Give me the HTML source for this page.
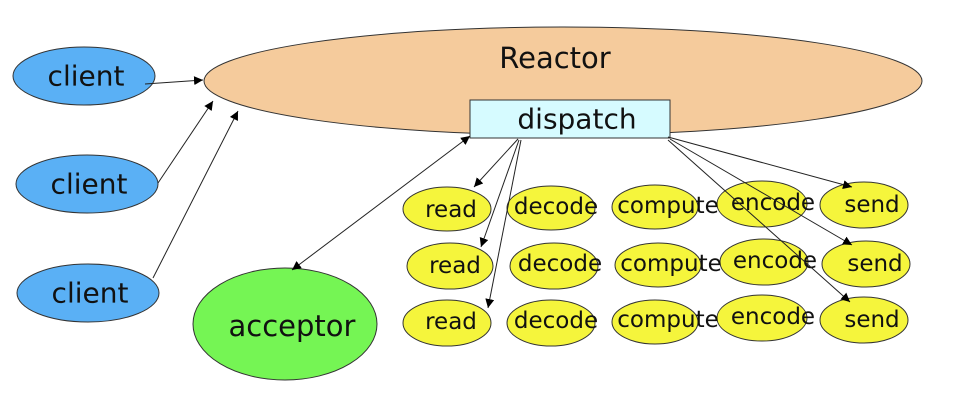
<!DOCTYPE html>
<html><head><meta charset="utf-8"><style>
html,body{margin:0;padding:0;background:#fff;}
svg{display:block;}
text{font-family:"DejaVu Sans","Liberation Sans",sans-serif;fill:#111;text-anchor:middle;dominant-baseline:central;}
</style></head><body>
<svg width="971" height="405" viewBox="0 0 971 405" xmlns="http://www.w3.org/2000/svg">
<defs>
<marker id="a" viewBox="0 0 10 10" refX="10" refY="5" markerWidth="9" markerHeight="9" orient="auto-start-reverse" markerUnits="userSpaceOnUse">
<path d="M0,0 L10,5 L0,10 z" fill="#000"/></marker>
</defs>
<ellipse cx="563" cy="81" rx="359" ry="54" fill="#f5cb9c" stroke="#333" stroke-width="1"/>
<text x="555" y="58" font-size="29">Reactor</text>
<rect x="470" y="100" width="200" height="38" fill="#d6fbff" stroke="#333" stroke-width="1"/>
<text x="577" y="119" font-size="28">dispatch</text>

<g fill="#5ab0f5" stroke="#333" stroke-width="1">
<ellipse cx="84" cy="76" rx="71" ry="29"/>
<ellipse cx="87" cy="184" rx="71" ry="29"/>
<ellipse cx="88" cy="293" rx="71" ry="29"/>
</g>
<text x="86" y="76" font-size="28">client</text>
<text x="89" y="184" font-size="28">client</text>
<text x="90" y="293" font-size="28">client</text>

<ellipse cx="285" cy="324" rx="92" ry="56" fill="#75f554" stroke="#333"/>
<text x="292" y="326" font-size="29">acceptor</text>

<g fill="#f5f53c" stroke="#333" stroke-width="1">
<ellipse cx="447" cy="209" rx="44" ry="22"/>
<ellipse cx="551" cy="208" rx="44" ry="22"/>
<ellipse cx="655" cy="207" rx="43" ry="22"/>
<ellipse cx="762" cy="204" rx="45" ry="23"/>
<ellipse cx="864" cy="205" rx="44" ry="23"/>
<ellipse cx="450" cy="266" rx="43" ry="23"/>
<ellipse cx="554" cy="266" rx="44" ry="23"/>
<ellipse cx="658" cy="265" rx="43" ry="22"/>
<ellipse cx="764" cy="262" rx="44" ry="23"/>
<ellipse cx="866" cy="264" rx="44" ry="23"/>
<ellipse cx="447" cy="323" rx="44" ry="23"/>
<ellipse cx="551" cy="323" rx="44" ry="23"/>
<ellipse cx="655" cy="322" rx="43" ry="22"/>
<ellipse cx="762" cy="318" rx="45" ry="23"/>
<ellipse cx="864" cy="320" rx="44" ry="23"/>
</g>
<g font-size="23">
<text x="451" y="210">read</text><text x="556" y="207">decode</text><text x="668" y="206">compute</text><text x="773" y="203">encode</text><text x="872" y="205">send</text>
<text x="455" y="266">read</text><text x="560" y="264">decode</text><text x="671" y="264">compute</text><text x="775" y="261">encode</text><text x="875" y="264">send</text>
<text x="451" y="322">read</text><text x="556" y="321">decode</text><text x="668" y="320">compute</text><text x="773" y="317">encode</text><text x="872" y="320">send</text>
</g>

<g stroke="#222" stroke-width="1" fill="none" marker-end="url(#a)">
<line x1="145" y1="84" x2="203" y2="80"/>
<line x1="158" y1="183" x2="213" y2="101"/>
<line x1="153" y1="278" x2="238" y2="111"/>
<line x1="292" y1="270" x2="470" y2="136" marker-start="url(#a)"/>
<line x1="518" y1="139" x2="474" y2="187"/>
<line x1="519" y1="140" x2="481" y2="247"/>
<line x1="521" y1="140" x2="488" y2="308"/>
<line x1="668" y1="137" x2="852" y2="187"/>
<line x1="670" y1="139" x2="852" y2="245"/>
<line x1="668" y1="140" x2="850" y2="302"/>
</g>
</svg>
</body></html>
